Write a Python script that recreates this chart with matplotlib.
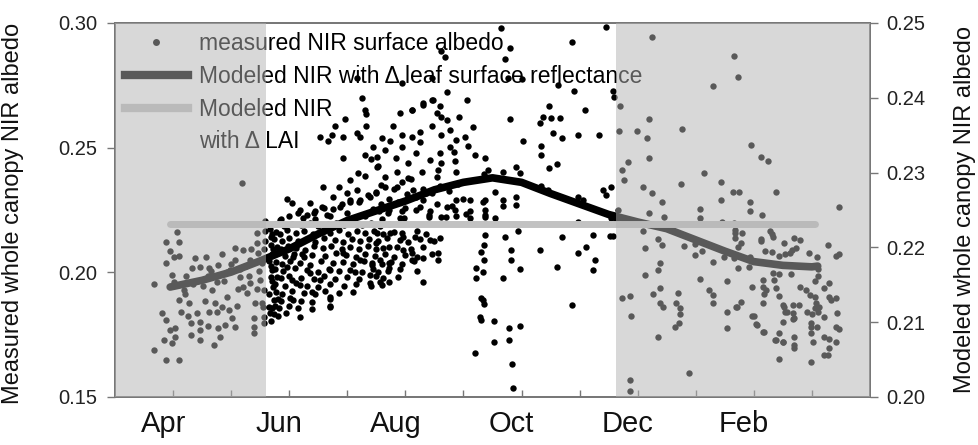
import matplotlib
matplotlib.use('Agg')
import matplotlib.pyplot as plt
import numpy as np
from matplotlib.lines import Line2D

plt.rcParams['font.family'] = ['Liberation Sans', 'DejaVu Sans']

# x = months since 1 April
month_pos = [0, 2, 4, 6, 8, 10]
month_labels = ['Apr', 'Jun', 'Aug', 'Oct', 'Dec', 'Feb']

# modeled NIR with changing leaf surface reflectance (right axis)
leaf_month = [-0.05, 0.5, 1.0, 1.5, 2.0, 2.5, 3.0, 3.5, 4.0, 4.5, 5.0, 5.5,
              6.0, 6.5, 7.0, 7.5, 8.0, 8.5, 9.0, 9.5, 10.0, 10.5, 11.0, 11.1]
leaf_albedo = [0.2147, 0.2156, 0.2167, 0.2182, 0.2198, 0.2218, 0.2236, 0.2249,
               0.2262, 0.2277, 0.2287, 0.2293, 0.2287, 0.2272, 0.2258, 0.2244,
               0.2234, 0.2225, 0.2210, 0.2195, 0.2181, 0.2176, 0.2174, 0.2175]

# modeled NIR with changing LAI (right axis)
lai_month = [-0.05, 1, 2, 3, 4, 5, 6, 7, 8, 9, 10, 11.05]
lai_albedo = [0.2231, 0.2231, 0.2231, 0.2231, 0.2231, 0.2231,
              0.2231, 0.2231, 0.2231, 0.2231, 0.2231, 0.2231]

# measured NIR surface albedo (left axis), (month, albedo)
spring_pts = [
    (-0.33, 0.1954), (-0.33, 0.1690), (-0.13, 0.1650), (0.10, 0.1650), (0.07, 0.2160),
    (-0.13, 0.2120), (0.10, 0.2120), (-0.06, 0.2087), (0.01, 0.2060), (0.11, 0.2066),
    (-0.13, 0.2036), (-0.02, 0.1990), (0.01, 0.1963), (-0.19, 0.1836), (-0.13, 0.1810),
    (-0.05, 0.1770), (0.04, 0.1776), (-0.16, 0.1729), (-0.02, 0.1716), (0.04, 0.1742),
    (0.10, 0.1889), (0.13, 0.1842), (0.18, 0.1930), (0.27, 0.1876), (0.30, 0.1796),
    (0.30, 0.1749), (0.38, 0.2056), (0.56, 0.2060), (0.33, 0.2016), (0.47, 0.2023),
    (0.61, 0.2016), (0.78, 0.2030), (0.41, 0.1836), (0.47, 0.1800), (0.47, 0.1770),
    (0.47, 0.1729), (0.67, 0.1930), (0.73, 0.1876), (0.76, 0.1842), (0.78, 0.1776),
    (0.81, 0.1742), (0.70, 0.1709), (0.76, 0.1963), (0.93, 0.1903), (0.96, 0.1849),
    (1.01, 0.1816), (1.07, 0.1782), (1.07, 0.2097), (1.21, 0.2090), (1.07, 0.2050),
    (0.98, 0.2010), (1.16, 0.1983), (1.21, 0.1943), (1.27, 0.1916), (1.41, 0.1876),
    (1.39, 0.1816), (1.39, 0.1782), (1.39, 0.1756), (1.44, 0.2157), (1.44, 0.2117),
    (1.47, 0.2077), (1.53, 0.2036), (1.50, 0.1970), (1.56, 0.1930), (1.53, 0.1876),
    (1.33, 0.2050), (1.33, 0.1956), (1.19, 0.2360), (0.22, 0.1985), (0.35, 0.1955),
    (0.52, 0.1945), (0.60, 0.1985), (0.88, 0.1965), (0.55, 0.1885), (0.62, 0.1840),
    (0.85, 0.1860), (0.92, 0.2000), (1.12, 0.1935), (1.25, 0.2025), (1.30, 0.1985),
    (1.48, 0.2005), (1.56, 0.2095), (1.58, 0.2125), (1.58, 0.2165), (1.55, 0.1860),
    (1.57, 0.1820), (1.57, 0.1795), (1.10, 0.1865), (0.85, 0.2075), (1.00, 0.2035),
    (0.20, 0.1915), (0.25, 0.1825), (0.60, 0.1785), (0.65, 0.2005), (0.90, 0.1790),
    (1.15, 0.2015), (1.35, 0.2095), (1.45, 0.1935), (1.52, 0.2195), (1.58, 0.2205),
]

summer_pts = [
    (1.67, 0.2175), (1.68, 0.2140), (1.69, 0.2110), (1.70, 0.2075), (1.66, 0.2045),
    (1.70, 0.2010), (1.68, 0.1980), (1.72, 0.1943), (1.73, 0.1889), (1.67, 0.1836),
    (1.70, 0.1855), (1.66, 0.1915), (1.71, 0.1965), (1.69, 0.2025), (1.72, 0.2095),
    (1.71, 0.2155), (1.66, 0.1862), (1.68, 0.1805),
    (2.96, 0.2614), (3.33, 0.2635), (3.33, 0.2587), (2.79, 0.2587), (2.53, 0.2544),
    (2.67, 0.2528), (2.73, 0.2551), (2.93, 0.2544), (3.16, 0.2558), (3.22, 0.2544),
    (3.45, 0.2504), (2.93, 0.2457), (3.31, 0.2470), (3.40, 0.2455), (3.51, 0.2424),
    (3.19, 0.2397), (3.05, 0.2370), (3.30, 0.2385), (2.59, 0.2341), (2.86, 0.2341),
    (2.76, 0.2303), (2.99, 0.2317), (3.16, 0.2330), (1.96, 0.2293), (2.05, 0.2277),
    (2.19, 0.2250), (2.36, 0.2277), (2.56, 0.2263), (2.42, 0.2237), (2.65, 0.2230),
    (2.88, 0.2263), (3.05, 0.2283), (3.22, 0.2290), (3.39, 0.2303), (1.84, 0.2210),
    (2.24, 0.2217), (3.25, 0.2698), (3.16, 0.2778), (3.31, 0.2651), (3.94, 0.2758),
    (4.11, 0.2651), (4.31, 0.2678), (4.48, 0.2691),
    (2.22, 0.2074), (2.07, 0.2063), (1.96, 0.2023), (2.36, 0.1996), (2.05, 0.1970),
    (2.19, 0.1950), (2.39, 0.1923), (2.07, 0.1889), (2.70, 0.1903), (2.70, 0.1862),
    (2.53, 0.1970), (2.70, 0.2010), (3.13, 0.2003), (3.22, 0.2050), (3.39, 0.1990),
    (3.39, 0.1959), (2.93, 0.2077),
    (1.76, 0.2192), (1.91, 0.2187), (2.05, 0.2195), (2.21, 0.2189), (2.36, 0.2198),
    (2.50, 0.2186), (2.66, 0.2194), (2.81, 0.2199), (2.95, 0.2188), (3.10, 0.2196),
    (3.26, 0.2191), (3.41, 0.2199), (3.56, 0.2186), (3.71, 0.2194),
    (1.78, 0.2163), (1.84, 0.2155), (1.96, 0.2168), (2.11, 0.2158), (2.26, 0.2166),
    (2.41, 0.2152), (2.56, 0.2163), (2.71, 0.2157), (2.86, 0.2169), (3.01, 0.2154),
    (3.16, 0.2165), (3.31, 0.2159), (3.46, 0.2167), (3.61, 0.2153), (3.80, 0.2162),
    (3.95, 0.2157), (4.20, 0.2166), (4.35, 0.2155),
    (1.74, 0.2134), (1.88, 0.2127), (2.00, 0.2138), (2.15, 0.2125), (2.30, 0.2133),
    (2.45, 0.2122), (2.60, 0.2136), (2.78, 0.2128), (2.92, 0.2121), (3.08, 0.2135),
    (3.22, 0.2126), (3.38, 0.2132), (3.52, 0.2124), (3.68, 0.2137), (3.90, 0.2129),
    (4.05, 0.2121), (4.25, 0.2133), (4.50, 0.2126),
    (1.79, 0.2103), (1.85, 0.2095), (1.98, 0.2106), (2.12, 0.2098), (2.28, 0.2091),
    (2.42, 0.2104), (2.58, 0.2096), (2.72, 0.2107), (2.90, 0.2093), (3.05, 0.2101),
    (3.20, 0.2095), (3.35, 0.2105), (3.50, 0.2092), (3.62, 0.2099), (3.85, 0.2103),
    (4.10, 0.2094), (4.30, 0.2101),
    (1.75, 0.2073), (1.92, 0.2066), (2.08, 0.2075), (2.25, 0.2062), (2.40, 0.2071),
    (2.62, 0.2064), (2.80, 0.2076), (2.98, 0.2068), (3.15, 0.2061), (3.30, 0.2072),
    (3.48, 0.2065), (3.65, 0.2074), (3.80, 0.2063), (4.00, 0.2069), (4.20, 0.2061),
    (4.45, 0.2072),
    (1.77, 0.2043), (1.88, 0.2035), (2.02, 0.2046), (2.18, 0.2038), (2.35, 0.2031),
    (2.55, 0.2044), (2.75, 0.2036), (2.92, 0.2042), (3.10, 0.2033), (3.28, 0.2045),
    (3.42, 0.2037), (3.60, 0.2032), (3.75, 0.2041), (3.95, 0.2035), (4.15, 0.2044),
    (1.75, 0.2013), (1.90, 0.2005), (2.10, 0.2016), (2.30, 0.2008), (2.50, 0.2002),
    (2.68, 0.2014), (2.85, 0.2006), (3.05, 0.2011), (3.25, 0.2003), (3.45, 0.2015),
    (3.70, 0.2007), (3.90, 0.2012), (4.20, 0.2004),
    (1.79, 0.1983), (1.85, 0.1976), (2.00, 0.1986), (2.20, 0.1978), (2.42, 0.1972),
    (2.60, 0.1984), (2.78, 0.1975), (3.00, 0.1981), (3.20, 0.1973), (3.50, 0.1985),
    (3.62, 0.1977), (3.88, 0.1982),
    (1.76, 0.1953), (1.92, 0.1945), (2.12, 0.1956), (2.30, 0.1947), (2.50, 0.1942),
    (2.70, 0.1955), (2.95, 0.1946), (3.15, 0.1952), (3.40, 0.1944), (3.60, 0.1951),
    (1.78, 0.1923), (1.88, 0.1915), (2.05, 0.1926), (2.25, 0.1917), (2.45, 0.1912),
    (2.62, 0.1924), (2.85, 0.1916), (3.10, 0.1921),
    (1.80, 0.1893), (1.85, 0.1884), (2.02, 0.1896), (2.20, 0.1887), (2.40, 0.1882),
    (2.70, 0.1894), (1.75, 0.1863), (1.82, 0.1855), (2.00, 0.1866), (2.15, 0.1857),
    (2.40, 0.1852), (2.70, 0.1864), (1.74, 0.1833), (1.80, 0.1825), (1.95, 0.1836),
    (2.18, 0.1822),
    (1.85, 0.2212), (2.00, 0.2225), (2.15, 0.2236), (2.30, 0.2228), (2.45, 0.2246),
    (2.60, 0.2258), (2.75, 0.2254), (2.90, 0.2276), (3.05, 0.2291), (3.20, 0.2284),
    (3.35, 0.2311), (3.50, 0.2324), (3.65, 0.2342), (3.80, 0.2333), (3.95, 0.2361),
    (4.10, 0.2374), (3.58, 0.2275), (3.72, 0.2296), (3.88, 0.2282), (4.02, 0.2315),
    (4.18, 0.2302), (4.30, 0.2334), (4.45, 0.2318), (4.60, 0.2346), (4.75, 0.2325),
    (4.90, 0.2355), (3.45, 0.2255), (3.70, 0.2238), (3.95, 0.2247), (4.25, 0.2262),
    (4.55, 0.2274), (4.80, 0.2268), (5.00, 0.2295), (2.45, 0.2212), (2.70, 0.2225),
    (3.00, 0.2238), (3.30, 0.2225), (3.60, 0.2212), (3.90, 0.2216), (4.40, 0.2228),
    (4.70, 0.2221), (5.05, 0.2234),
    (4.62, 0.2889), (4.68, 0.2862), (4.45, 0.2778), (4.71, 0.2724), (5.06, 0.2691),
    (4.45, 0.2691), (4.31, 0.2671), (4.59, 0.2667), (4.11, 0.2651), (3.91, 0.2638),
    (4.54, 0.2638), (4.93, 0.2624), (4.62, 0.2624), (4.71, 0.2611), (3.79, 0.2587),
    (4.45, 0.2587), (5.16, 0.2584), (4.77, 0.2571), (4.25, 0.2564), (3.94, 0.2551),
    (4.11, 0.2544), (3.59, 0.2538), (4.62, 0.2551), (5.02, 0.2541), (3.73, 0.2528),
    (4.25, 0.2524), (4.88, 0.2531), (3.94, 0.2504), (5.08, 0.2507), (4.77, 0.2504),
    (3.65, 0.2491), (4.19, 0.2477), (4.59, 0.2477), (4.83, 0.2484), (5.20, 0.2471),
    (5.37, 0.2457), (3.51, 0.2464), (3.83, 0.2457), (4.42, 0.2451), (4.05, 0.2437),
    (4.62, 0.2437), (4.85, 0.2445), (3.52, 0.2425), (3.85, 0.2404), (4.28, 0.2404),
    (4.56, 0.2411), (4.88, 0.2404), (3.65, 0.2384), (4.05, 0.2378), (4.55, 0.2384),
    (3.58, 0.2350), (3.85, 0.2344), (4.13, 0.2330), (4.36, 0.2317), (3.50, 0.2317),
    (4.30, 0.2290), (4.88, 0.2290), (5.11, 0.2290), (5.34, 0.2283), (4.71, 0.2263),
    (3.99, 0.2257), (4.19, 0.2250), (4.42, 0.2245), (3.55, 0.2245), (3.72, 0.2252),
    (4.85, 0.2250), (5.11, 0.2244), (5.37, 0.2223), (3.97, 0.2217), (4.41, 0.2220),
    (4.62, 0.2223), (4.88, 0.2226), (5.11, 0.2217),
    (3.51, 0.2157), (3.73, 0.2157), (3.96, 0.2143), (4.16, 0.2143), (4.42, 0.2130),
    (4.59, 0.2137), (3.49, 0.2117), (3.71, 0.2103), (3.96, 0.2090), (4.11, 0.2077),
    (4.31, 0.2058), (4.57, 0.2077), (4.57, 0.2050), (3.56, 0.2050), (3.71, 0.2036),
    (4.11, 0.2050), (3.42, 0.2030), (3.53, 0.2003), (3.71, 0.2016), (3.56, 0.1963),
    (3.71, 0.1963), (4.31, 0.1963), (5.31, 0.2083), (5.22, 0.2016), (5.21, 0.1976),
    (5.31, 0.1896), (5.28, 0.1822),
    (5.65, 0.2979), (7.46, 0.2985), (6.87, 0.2925), (5.80, 0.2899), (5.71, 0.2854),
    (5.77, 0.2778), (6.00, 0.2774), (6.63, 0.2751), (6.91, 0.2728), (7.57, 0.2728),
    (7.60, 0.2702), (6.48, 0.2667), (7.10, 0.2651), (5.80, 0.2614), (6.37, 0.2624),
    (6.51, 0.2618), (6.66, 0.2618), (6.31, 0.2598), (6.54, 0.2558), (6.69, 0.2538),
    (6.97, 0.2551), (7.33, 0.2551), (6.02, 0.2527), (6.34, 0.2507), (6.34, 0.2471),
    (6.61, 0.2435), (6.47, 0.2417), (5.91, 0.2421), (5.97, 0.2397), (5.68, 0.2404),
    (5.42, 0.2410), (5.35, 0.2395), (6.34, 0.2346), (6.46, 0.2330), (7.40, 0.2330),
    (7.46, 0.2310), (7.54, 0.2344), (6.97, 0.2303), (7.06, 0.2290), (5.54, 0.2324),
    (5.68, 0.2290), (5.91, 0.2303), (5.91, 0.2270), (5.68, 0.2266), (5.37, 0.2290),
    (5.37, 0.2250), (5.37, 0.2230), (5.54, 0.2217), (6.97, 0.2203), (7.54, 0.2217),
    (5.37, 0.2150), (5.71, 0.2143), (5.94, 0.2167), (6.69, 0.2140), (7.23, 0.2150),
    (7.52, 0.2146), (7.58, 0.2146), (7.11, 0.2103), (6.97, 0.2077), (7.26, 0.2050),
    (7.23, 0.2010), (6.31, 0.2090), (5.82, 0.2090), (5.82, 0.2050), (5.97, 0.2012),
    (6.61, 0.2020), (5.35, 0.2110), (5.35, 0.2050), (5.33, 0.2000), (5.68, 0.1976),
    (5.33, 0.1889), (5.35, 0.1875), (6.87, 0.1869), (5.31, 0.1809), (5.52, 0.1805),
    (5.79, 0.1776), (5.98, 0.1786), (5.52, 0.1722), (5.79, 0.1729), (5.83, 0.1632),
    (5.85, 0.1535), (5.20, 0.1677),
]

winter_pts = [
    (7.63, 0.2210), (8.25, 0.2945), (9.66, 0.2868), (9.72, 0.2782), (9.30, 0.2749),
    (7.70, 0.2667), (8.19, 0.2614), (8.77, 0.2575), (7.68, 0.2568), (7.99, 0.2567),
    (8.16, 0.2538), (8.19, 0.2457), (7.84, 0.2444), (7.73, 0.2410), (7.76, 0.2370),
    (9.14, 0.2400), (8.09, 0.2344), (8.25, 0.2320), (8.75, 0.2353), (9.44, 0.2361),
    (9.44, 0.2290), (9.64, 0.2324), (9.74, 0.2322), (8.42, 0.2283), (8.19, 0.2239),
    (8.45, 0.2223), (9.08, 0.2253), (9.08, 0.2217), (9.46, 0.2203), (9.65, 0.2197),
    (7.66, 0.2250), (8.09, 0.2167), (8.35, 0.2132), (8.42, 0.2110), (8.12, 0.2096),
    (8.79, 0.2105), (8.98, 0.2113), (9.11, 0.2087), (8.98, 0.2070), (9.30, 0.2043),
    (9.48, 0.2063), (9.65, 0.2057), (8.39, 0.2036), (8.35, 0.2010), (8.12, 0.1990),
    (9.08, 0.1972), (9.53, 0.1967), (8.39, 0.1939), (9.23, 0.1930), (8.27, 0.1913),
    (8.69, 0.1916), (9.30, 0.1909), (9.30, 0.1876), (7.73, 0.1898), (7.86, 0.1905),
    (8.39, 0.1878), (8.44, 0.1862), (8.66, 0.1876), (8.72, 0.1856), (8.72, 0.1833),
    (7.89, 0.1825), (9.53, 0.1842), (9.69, 0.1862), (8.71, 0.1798), (8.64, 0.1782),
    (9.53, 0.1776), (8.35, 0.1740), (8.88, 0.1598), (7.86, 0.1568), (7.86, 0.1525),
    (9.95, 0.2511), (10.12, 0.2461), (10.25, 0.2446), (10.39, 0.2322), (9.93, 0.2283),
    (10.14, 0.2230), (9.68, 0.2159), (9.80, 0.2159), (9.68, 0.2137), (9.78, 0.2117),
    (9.72, 0.2103), (10.52, 0.2117), (10.70, 0.2137), (10.12, 0.2134), (10.31, 0.2153),
    (10.19, 0.2087), (10.31, 0.2080), (10.44, 0.2066), (10.54, 0.2074), (10.65, 0.2091),
    (9.94, 0.2063), (9.91, 0.2023), (9.97, 0.1940), (10.16, 0.1970), (10.16, 0.1943),
    (10.17, 0.1912), (10.33, 0.1996), (10.34, 0.1970), (10.39, 0.1939), (10.44, 0.1905),
    (10.15, 0.1876), (10.50, 0.1869), (10.57, 0.1842), (10.67, 0.1869), (10.67, 0.1836),
    (10.69, 0.1816), (10.50, 0.1802), (9.97, 0.1825), (10.03, 0.1793), (10.15, 0.1762),
    (10.43, 0.1758), (10.36, 0.1729), (10.50, 0.1722), (10.69, 0.1742), (10.69, 0.1709),
    (10.69, 0.1696), (10.43, 0.1651), (9.93, 0.2247), (11.47, 0.2262), (9.67, 0.2170),
    (10.28, 0.2164), (10.33, 0.2140), (10.13, 0.2127), (10.79, 0.2129), (10.73, 0.2097),
    (11.27, 0.2109), (11.41, 0.2066), (11.47, 0.2073), (10.95, 0.2079), (11.08, 0.2062),
    (10.62, 0.2079), (9.73, 0.2016), (10.44, 0.1995), (10.64, 0.1992), (11.10, 0.2012),
    (11.10, 0.1985), (11.05, 0.1965), (10.21, 0.1930), (10.79, 0.1943), (10.90, 0.1930),
    (11.30, 0.1956), (11.21, 0.1936), (10.97, 0.1909), (11.05, 0.1902), (11.07, 0.1876),
    (11.13, 0.1862), (11.30, 0.1902), (11.41, 0.1896), (11.33, 0.1889), (10.52, 0.1860),
    (10.54, 0.1842), (10.67, 0.1812), (10.78, 0.1869), (10.92, 0.1842), (11.00, 0.1832),
    (11.05, 0.1855), (11.10, 0.1842), (11.21, 0.1819), (11.44, 0.1836), (9.71, 0.1862),
    (9.78, 0.1882), (10.00, 0.1825), (10.05, 0.1789), (10.17, 0.1762), (10.38, 0.1729),
    (10.51, 0.1719), (10.99, 0.1795), (10.99, 0.1780), (10.99, 0.1757), (11.01, 0.1722),
    (11.08, 0.1782), (11.21, 0.1742), (11.30, 0.1732), (11.41, 0.1722), (11.30, 0.1696),
    (11.21, 0.1669), (11.28, 0.1669), (11.41, 0.1782), (11.47, 0.1772), (10.98, 0.1642),
]

# shaded periods (months)
shade_spans = [(-1.0, 1.60), (7.63, 12.0)]

pts = np.array(spring_pts + summer_pts + winter_pts)

fig = plt.figure(figsize=(9.79, 4.45), dpi=100)
ax = fig.add_axes([115 / 979, 48 / 445, 755 / 979, 374 / 445])
ax2 = ax.twinx()

ax.plot(pts[:, 0], pts[:, 1], 'o', color='black', ms=4.6, mew=0, zorder=2)
ax2.plot(leaf_month, leaf_albedo, color='black', lw=5.5, solid_capstyle='round', zorder=3)
ax2.plot(lai_month, lai_albedo, color='#c2c2c2', lw=5, solid_capstyle='round', zorder=4)

ax.set_xlim(-1, 12)
ax.set_ylim(0.15, 0.30)
ax2.set_ylim(0.20, 0.25)

# semi-transparent overlay greys out everything beneath it
for x0, x1 in shade_spans:
    ax2.axvspan(x0, x1, color=(0.7, 0.7, 0.7), alpha=0.5, lw=0, zorder=10)

handles = [
    Line2D([], [], ls='none', marker='o', color='black', ms=5, mew=0),
    Line2D([], [], color='black', lw=6),
    Line2D([], [], color='#c2c2c2', lw=6),
    Line2D([], [], ls='none'),
]
labels = ['measured NIR surface albedo',
          'Modeled NIR with \u0394 leaf surface reflectance',
          'Modeled NIR',
          'with \u0394 LAI']
ax2.legend(handles, labels, loc='upper left', bbox_to_anchor=(0.013, 0.975),
           frameon=False, fontsize=16.5, handlelength=2.75, handletextpad=0.5,
           labelspacing=0.42, borderpad=0, borderaxespad=0, numpoints=1)

# month ticks: small inward ticks at month starts, labels slightly left
ax.set_xticks(range(12), minor=True)
ax.set_xticks([m - 0.17 for m in month_pos])
ax.set_xticklabels(month_labels, fontsize=21)
ax.tick_params(axis='x', which='major', length=0, pad=9, labelcolor='#111')
ax.tick_params(axis='x', which='minor', direction='in', length=5, width=1, color='#777')

ax.set_yticks([0.15, 0.20, 0.25, 0.30])
ax.set_yticklabels(['0.15', '0.20', '0.25', '0.30'])
ax.tick_params(axis='y', direction='out', length=6, width=1, color='#777',
               labelsize=14.5, labelcolor='#222', pad=7)
ax2.set_yticks([0.20, 0.21, 0.22, 0.23, 0.24, 0.25])
ax2.set_yticklabels(['0.20', '0.21', '0.22', '0.23', '0.24', '0.25'])
ax2.tick_params(axis='y', direction='out', length=6, width=1, color='#777',
                labelsize=14.5, labelcolor='#222', pad=6)

for a in (ax, ax2):
    for s in a.spines.values():
        s.set_color('#777')
        s.set_linewidth(1.3)

fig.text(13 / 979, 0.52, 'Measured whole canopy NIR albedo', rotation=90,
         ha='center', va='center', fontsize=17, color='#111')
fig.text(965 / 979, 0.53, 'Modeled whole canopy NIR albedo', rotation=90,
         ha='center', va='center', fontsize=17, color='#111')

fig.savefig('out.png', dpi=100)
